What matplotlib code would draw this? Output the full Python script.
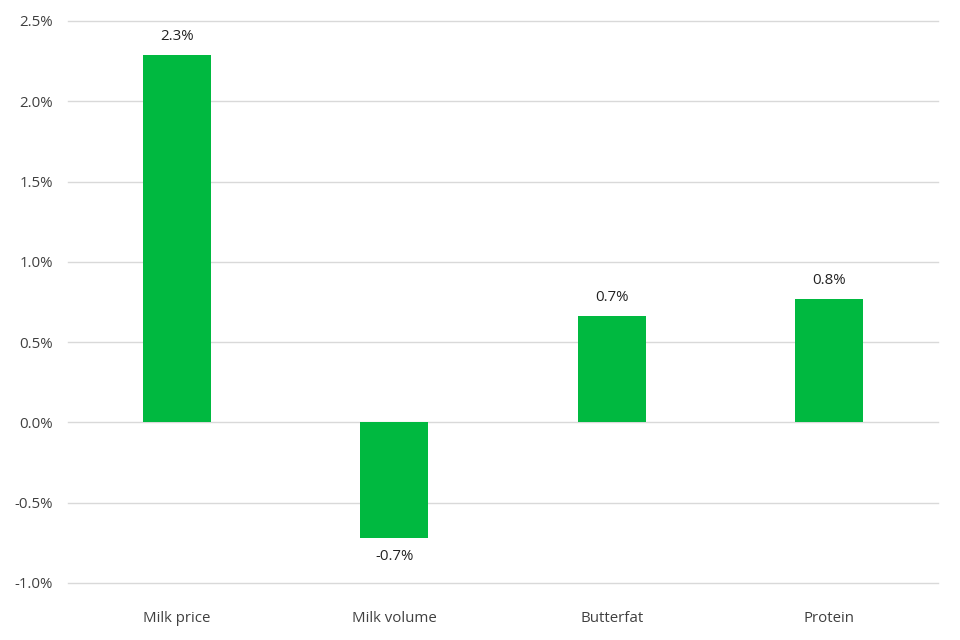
import matplotlib.pyplot as plt
from matplotlib.ticker import FuncFormatter

categories = ['Milk price', 'Milk volume', 'Butterfat', 'Protein']
values = [2.29, -0.72, 0.66, 0.77]
labels = ['2.3%', '-0.7%', '0.7%', '0.8%']
yticks = [-1.0, -0.5, 0.0, 0.5, 1.0, 1.5, 2.0, 2.5]

plt.rcParams['font.family'] = ['Open Sans', 'DejaVu Sans']

fig = plt.figure(figsize=(9.6, 6.4), dpi=100)
ax = fig.add_axes([68 / 960, 1 - 583 / 640, 870 / 960, 562 / 640])

x = range(len(categories))
bars = ax.bar(x, values, width=0.3125, color='#00B940', zorder=2)

ax.set_xlim(-0.5, 3.5)
ax.set_ylim(-1.0, 2.5)
ax.set_yticks(yticks)
ax.yaxis.set_major_formatter(FuncFormatter(lambda v, p: f'{v:.1f}%'))
ax.set_xticks(list(x))
ax.set_xticklabels(categories)

ax.grid(axis='y', color='#d9d9d9', linewidth=1, zorder=0)
for gl in ax.get_ygridlines():
    gl.set_clip_on(False)
for s in ax.spines.values():
    s.set_visible(False)
ax.tick_params(length=0, labelsize=10.8, colors='#404040')
ax.tick_params(axis='x', pad=20)
ax.tick_params(axis='y', pad=11)

for b, v, lab in zip(bars, values, labels):
    cx = b.get_x() + b.get_width() / 2
    if v >= 0:
        ax.annotate(lab, (cx, v), xytext=(0, 8), textcoords='offset points',
                    ha='center', va='bottom', fontsize=10.8, color='#222222',
                    bbox=dict(facecolor='white', edgecolor='none', pad=3), zorder=3)
    else:
        ax.annotate(lab, (cx, v), xytext=(0, -8), textcoords='offset points',
                    ha='center', va='top', fontsize=10.8, color='#222222', zorder=3)

fig.savefig('out.png', dpi=100)
